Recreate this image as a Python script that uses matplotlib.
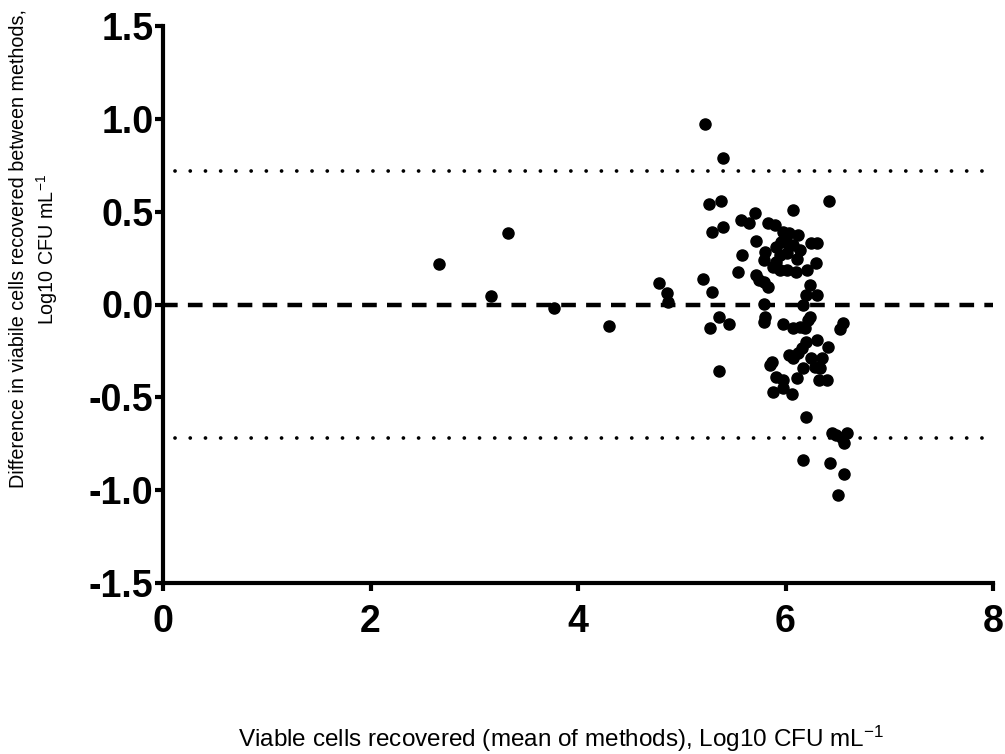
import matplotlib
matplotlib.use('Agg')
import matplotlib.pyplot as plt
import numpy as np

plt.rcParams['font.family'] = ['Liberation Sans', 'DejaVu Sans']
plt.rcParams['mathtext.fontset'] = 'custom'
plt.rcParams['mathtext.rm'] = 'Liberation Sans'
plt.rcParams['mathtext.it'] = 'Liberation Sans:italic'

# mean of methods (x) and difference between methods (y), Log10 CFU/mL
mean_vals = [
    2.66, 3.16, 3.33, 3.77, 4.30, 4.78, 4.855, 4.87,
    5.22, 5.40, 5.26, 5.38, 6.42, 5.29, 5.40, 5.57, 5.65,
    5.71, 6.07, 5.83, 5.90, 5.98, 6.03, 6.12, 5.72, 5.96, 6.01, 6.07,
    6.25, 6.30, 5.91, 6.14, 5.58, 5.80, 5.79, 5.95, 5.91, 6.01, 6.11,
    6.29, 5.88, 5.95, 6.01, 6.10, 6.21, 5.54, 5.72, 5.74, 5.79, 5.83,
    6.24, 6.20, 6.30, 5.20, 5.29, 5.79, 6.17,
    5.80, 5.79, 6.24, 6.22, 5.36, 5.27, 5.455, 5.98, 6.07, 6.14, 6.19,
    6.55, 6.53, 6.20, 6.30, 6.41, 6.16, 6.12, 6.03, 6.07, 6.25, 6.35,
    5.87, 5.85, 6.28, 6.33, 6.17, 5.36, 5.91, 5.98, 6.11, 6.32, 6.40,
    5.98, 5.88, 6.06, 6.20, 6.445, 6.49, 6.59, 6.54, 6.56, 6.17, 6.43,
    6.56, 6.51,
]
diff_vals = [
    0.216, 0.046, 0.383, -0.02, -0.114, 0.114, 0.06, 0.015,
    0.97, 0.79, 0.54, 0.56, 0.56, 0.39, 0.42, 0.455, 0.44,
    0.494, 0.51, 0.44, 0.43, 0.389, 0.383, 0.374, 0.342, 0.338, 0.33, 0.32,
    0.33, 0.33, 0.31, 0.293, 0.266, 0.284, 0.24, 0.267, 0.23, 0.276, 0.243,
    0.222, 0.204, 0.186, 0.186, 0.177, 0.186, 0.177, 0.159, 0.13, 0.123, 0.093,
    0.105, 0.051, 0.051, 0.14, 0.069, 0.005, 0.0,
    -0.066, -0.096, -0.066, -0.083, -0.07, -0.128, -0.107, -0.107, -0.125, -0.12, -0.128,
    -0.10, -0.13, -0.2, -0.19, -0.227, -0.236, -0.263, -0.272, -0.29, -0.29, -0.286,
    -0.308, -0.326, -0.335, -0.344, -0.344, -0.356, -0.389, -0.407, -0.397, -0.407, -0.407,
    -0.45, -0.473, -0.484, -0.604, -0.694, -0.703, -0.69, -0.72, -0.747, -0.837, -0.855,
    -0.914, -1.026,
]

bias = 0.0
loa_upper = 0.72
loa_lower = -0.72

x_ticks = [0, 2, 4, 6, 8]
y_ticks = [-1.5, -1.0, -0.5, 0.0, 0.5, 1.0, 1.5]

fig = plt.figure(figsize=(10.05, 7.54), dpi=100)
ax = fig.add_axes([163/1005, 1 - 583/754, (993-163)/1005, (583-26)/754])

ax.plot([0, 8], [bias, bias], color='black', lw=3.2, dashes=(3.3, 2.3),
        dash_capstyle='butt', zorder=2)
for lim in (loa_upper, loa_lower):
    ax.plot([0.12, 8], [lim, lim], color='black', lw=2.7,
            linestyle=(0, (0.01, 4.05)), dash_capstyle='round', zorder=2)

ax.scatter(mean_vals, diff_vals, s=64, color='black', zorder=3, clip_on=False)

ax.set_xlim(0, 8)
ax.set_ylim(-1.5, 1.5)
ax.set_xticks(x_ticks)
ax.set_yticks(y_ticks)
ax.set_xticklabels([str(t) for t in x_ticks], fontsize=27, fontweight='bold')
ax.set_yticklabels(['%.1f' % t for t in y_ticks], fontsize=27, fontweight='bold')

for s in ['top', 'right']:
    ax.spines[s].set_visible(False)
for s in ['left', 'bottom']:
    ax.spines[s].set_linewidth(3)
ax.tick_params(direction='out', length=6, width=3)
ax.tick_params(axis='x', pad=9)
ax.tick_params(axis='y', pad=1)

fig.text(34/1005, 1 - 249/754,
         'Difference in viabile cells recovered between methods,\nLog10 CFU mL$^{-1}$',
         rotation=90, ha='center', va='center', fontsize=14.2, linespacing=1.35)
fig.text(561/1005, 1 - 739/754,
         'Viable cells recovered (mean of methods), Log10 CFU mL$^{-1}$',
         ha='center', va='center', fontsize=17.5)

fig.savefig('out.png', dpi=100)
